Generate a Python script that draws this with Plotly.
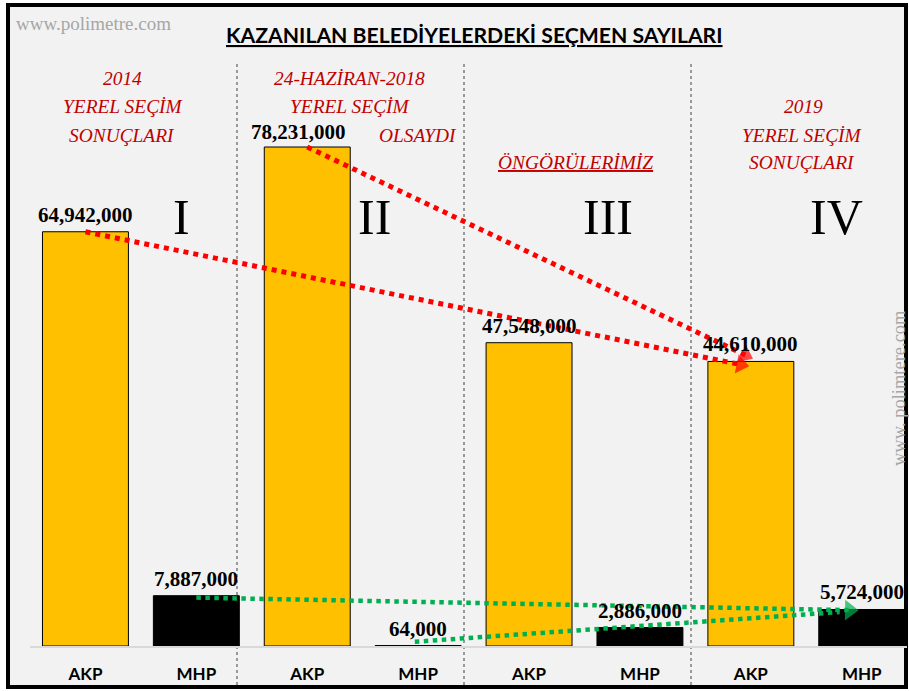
import plotly.graph_objects as go

# ---------------- data ----------------
parties = ["AKP", "MHP", "AKP", "MHP", "AKP", "MHP", "AKP", "MHP"]
akp_values = [64942000, 78231000, 47548000, 44610000]
mhp_values = [7887000, 64000, 2886000, 5724000]
roman = ["I", "II", "III", "IV"]
title_text = "KAZANILAN BELEDİYELERDEKİ SEÇMEN SAYILARI"

values = []
for a, m in zip(akp_values, mhp_values):
    values += [a, m]
xs = list(range(len(values)))
colors = ["#FFC000" if p == "AKP" else "#000000" for p in parties]

# ---------------- geometry helpers (pixels -> paper) ----------------
W, H = 909, 691
PX0, PX1, PY0, PY1 = 30, 907, 60, 646
PXU = 110.9  # pixels per category


def px(x):
    return (x - PX0) / (PX1 - PX0)


def py(y):
    return (PY1 - y) / (PY1 - PY0)


y_top = 78231000 * (PY1 - PY0) / (646 - 147)

fig = go.Figure()
fig.add_trace(go.Bar(
    x=xs, y=values, width=0.775,
    marker=dict(color=colors, line=dict(color="#000000", width=1)),
    hoverinfo="skip", showlegend=False,
))

SERIF = "Liberation Serif, Times New Roman, serif"
SANS = "Lato, Open Sans, sans-serif"

annotations = []
# value labels
for i, v in enumerate(values):
    xs_shift = -9 if v == max(values) else 0
    ys_shift = 15 if v == max(values) else 17
    annotations.append(dict(
        x=i, y=v, xref="x", yref="y", text=f"{v:,}", showarrow=False,
        xanchor="center", yanchor="middle", xshift=xs_shift, yshift=ys_shift,
        font=dict(family=SERIF, size=21, color="#000000", weight="bold"),
    ))

# title
annotations.append(dict(
    x=px(474), y=py(35), xref="paper", yref="paper",
    text=f"<u>{title_text}</u>", showarrow=False, xanchor="center", yanchor="middle",
    font=dict(family=SANS, size=21.2, color="#000000", weight="bold"),
))

# watermarks
annotations.append(dict(
    x=px(93), y=py(23), xref="paper", yref="paper", text="www.polimetre.com",
    showarrow=False, xanchor="center", yanchor="middle",
    font=dict(family=SERIF, size=19, color="#A6A6A6"),
))
annotations.append(dict(
    x=px(899), y=py(388), xref="paper", yref="paper", text="www. polimtere.com",
    showarrow=False, xanchor="center", yanchor="middle", textangle=-90,
    font=dict(family=SERIF, size=18.5, color="#A6A6A6"),
))

# red group labels
red_labels = [
    ("2014", 122, 78), ("YEREL SEÇİM", 123, 107), ("SONUÇLARI", 122, 135),
    ("24-HAZİRAN-2018", 349, 78), ("YEREL SEÇİM", 350, 107), ("OLSAYDI", 418, 135),
    ("<u>ÖNGÖRÜLERİMİZ</u>", 575, 163),
    ("2019", 803, 107), ("YEREL SEÇİM", 802, 135), ("SONUÇLARI", 802, 163),
]
for t, x, y in red_labels:
    annotations.append(dict(
        x=px(x), y=py(y), xref="paper", yref="paper", text=t, showarrow=False,
        xanchor="center", yanchor="middle",
        font=dict(family=SERIF, size=19.4, color="#C00000", style="italic"),
    ))

# roman numerals
for t, x in zip(roman, [181, 374, 608, 836]):
    annotations.append(dict(
        x=px(x), y=py(217), xref="paper", yref="paper", text=t, showarrow=False,
        xanchor="center", yanchor="middle",
        font=dict(family=SERIF, size=50, color="#000000"),
    ))

# arrows (dotted lines with arrow heads), anchored at bar tops
def arrow(x0, y0, x1, y1, color, width, head):
    fig.add_trace(go.Scatter(
        x=[x0, x1], y=[y0, y1], mode="lines+markers",
        line=dict(color=color, width=width, dash="dot"),
        marker=dict(symbol="triangle-up", size=[0, head], angleref="previous",
                    color=color, line=dict(width=0)),
        hoverinfo="skip", showlegend=False, cliponaxis=False,
    ))

arrow(2, akp_values[1], 5.95, akp_values[3] + 1000000, "#FF0000", 5, 17)
arrow(0, akp_values[0], 5.91, akp_values[3] - 500000, "#FF0000", 5, 17)
arrow(2.97, mhp_values[1] + 600000, 6.80, mhp_values[3] - 400000, "#00B050", 4.5, 0)
arrow(1.0, mhp_values[0] - 300000, 6.89, mhp_values[3] - 100000, "#00B050", 4.5, 18)

shapes = []
# background panel with border
shapes.append(dict(
    type="rect", xref="paper", yref="paper",
    x0=px(8), x1=px(906), y0=py(687), y1=py(5),
    fillcolor="#F2F2F2", line=dict(color="#000000", width=4), layer="below",
))
# group separators
for x in [237, 464, 691]:
    shapes.append(dict(
        type="line", xref="paper", yref="paper",
        x0=px(x), x1=px(x), y0=py(685), y1=py(62),
        line=dict(color="#404040", width=1, dash="dot"), layer="below",
    ))

fig.update_layout(
    width=W, height=H, autosize=False,
    margin=dict(l=PX0, r=W - PX1, t=PY0, b=H - PY1, pad=0),
    paper_bgcolor="#FFFFFF", plot_bgcolor="rgba(0,0,0,0)",
    bargap=0.225,
    annotations=annotations, shapes=shapes,
    xaxis=dict(
        range=[-0.5, -0.5 + (PX1 - PX0) / PXU], tickmode="array",
        tickvals=xs, ticktext=parties, showgrid=False, zeroline=False,
        showline=True, linecolor="#D9D9D9", linewidth=1.5,
        ticks="outside", ticklen=12, tickcolor="rgba(0,0,0,0)",
        tickfont=dict(family=SANS, size=17, color="#000000", weight="bold"),
        fixedrange=True,
    ),
    yaxis=dict(range=[0, y_top], visible=False, fixedrange=True),
    showlegend=False,
)

fig.write_html(
    "out.html",
    config={"displayModeBar": False},
    post_script="document.body.style.margin='0';document.body.style.overflow='hidden';",
)
